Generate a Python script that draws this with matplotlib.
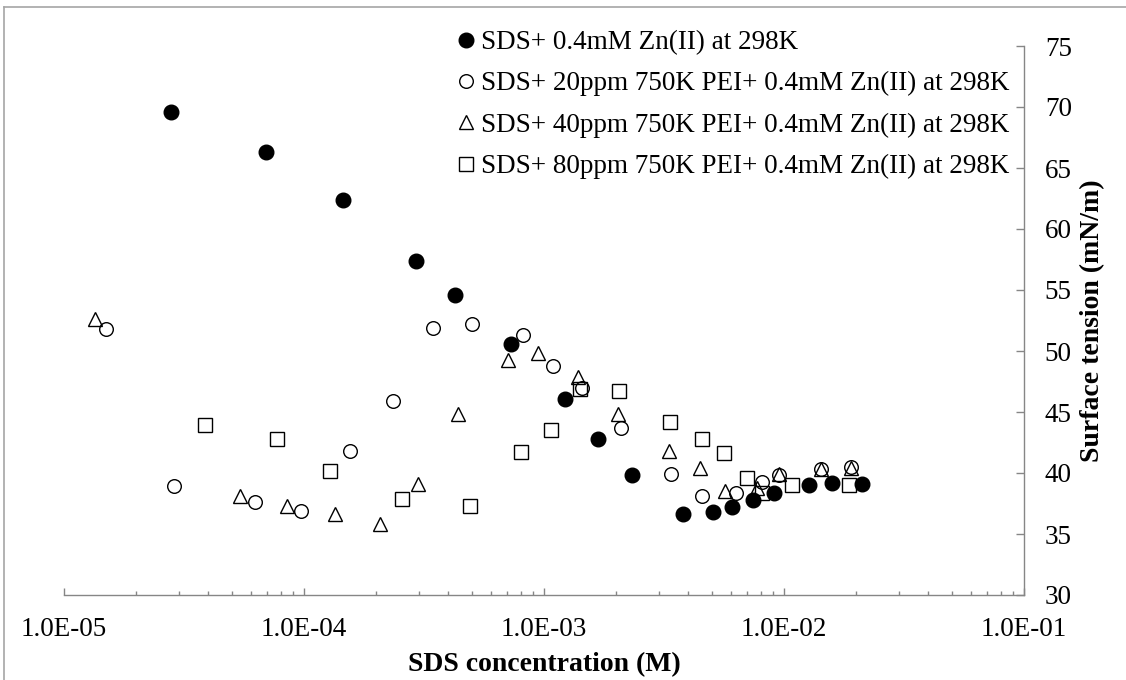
import matplotlib
matplotlib.use('Agg')
import matplotlib.pyplot as plt
import matplotlib.ticker as mticker
from matplotlib.lines import Line2D

plt.rcParams['font.family'] = ['Liberation Serif', 'DejaVu Serif']

# SDS + 0.4mM Zn(II)
SDS_ZN_X = [2.79e-5, 6.97e-5, 1.46e-4, 2.92e-4, 4.27e-4, 7.29e-4, 1.22e-3, 1.68e-3,
            2.32e-3, 3.80e-3, 5.06e-3, 6.05e-3, 7.45e-3, 9.06e-3, 1.27e-2, 1.59e-2, 2.12e-2]
SDS_ZN_Y = [69.6, 66.3, 62.4, 57.4, 54.6, 50.6, 46.1, 42.8,
            39.8, 36.6, 36.8, 37.2, 37.8, 38.4, 39.0, 39.2, 39.1]

# SDS + 20ppm PEI + Zn
PEI20_X = [1.50e-5, 2.87e-5, 6.23e-5, 9.72e-5, 1.56e-4, 2.34e-4, 3.44e-4, 5.01e-4, 8.15e-4,
           1.09e-3, 1.44e-3, 2.09e-3, 3.39e-3, 4.54e-3, 6.29e-3, 8.07e-3, 9.5e-3, 1.42e-2, 1.90e-2]
PEI20_Y = [51.8, 38.9, 37.6, 36.9, 41.8, 45.9, 51.9, 52.2, 51.3,
           48.8, 47.0, 43.7, 39.9, 38.1, 38.4, 39.3, 39.8, 40.3, 40.5]

# SDS + 40ppm PEI + Zn
PEI40_X = [1.35e-5, 5.41e-5, 8.47e-5, 1.35e-4, 2.07e-4, 2.99e-4, 4.37e-4, 7.08e-4, 9.44e-4,
           1.39e-3, 2.03e-3, 3.31e-3, 4.47e-3, 5.69e-3, 7.7e-3, 9.5e-3, 1.42e-2, 1.90e-2]
PEI40_Y = [52.6, 38.1, 37.3, 36.6, 35.8, 39.1, 44.8, 49.3, 49.8,
           47.9, 44.8, 41.8, 40.4, 38.5, 38.8, 39.9, 40.3, 40.4]

# SDS + 80ppm PEI + Zn
PEI80_X = [3.86e-5, 7.72e-5, 1.28e-4, 2.57e-4, 4.93e-4, 8.02e-4, 1.07e-3, 1.41e-3,
           2.06e-3, 3.35e-3, 4.54e-3, 5.61e-3, 7.01e-3, 8.12e-3, 1.08e-2, 1.87e-2]
PEI80_Y = [43.9, 42.8, 40.2, 37.9, 37.3, 41.7, 43.5, 46.9,
           46.7, 44.2, 42.8, 41.6, 39.6, 38.4, 39.0, 39.0]

LABELS = ['SDS+ 0.4mM Zn(II) at 298K',
          'SDS+ 20ppm 750K PEI+ 0.4mM Zn(II) at 298K',
          'SDS+ 40ppm 750K PEI+ 0.4mM Zn(II) at 298K',
          'SDS+ 80ppm 750K PEI+ 0.4mM Zn(II) at 298K']

X_TICKS = [1e-5, 1e-4, 1e-3, 1e-2, 1e-1]
Y_TICKS = [30, 35, 40, 45, 50, 55, 60, 65, 70, 75]

GRAY = '#868686'

fig = plt.figure(figsize=(11.26, 6.8), dpi=100)
ax = fig.add_axes([64/1126, 1 - 595/680, 960/1126, 549/680])

ax.plot(SDS_ZN_X, SDS_ZN_Y, ls='none', marker='o', ms=10.5, mfc='black', mec='black',
        label=LABELS[0])
ax.plot(PEI20_X, PEI20_Y, ls='none', marker='o', ms=9.8, mfc='white', mec='black',
        mew=1.0, label=LABELS[1])
ax.plot(PEI40_X, PEI40_Y, ls='none', marker='^', ms=9.8, mfc='none', mec='black',
        mew=1.0, label=LABELS[2])
ax.plot(PEI80_X, PEI80_Y, ls='none', marker='s', ms=9.8, mfc='none', mec='black',
        mew=1.0, label=LABELS[3])

ax.set_xscale('log')
ax.set_xlim(1e-5, 1e-1)
ax.set_ylim(30, 75)
ax.set_xticks(X_TICKS)
ax.xaxis.set_major_formatter(mticker.FuncFormatter(lambda v, p: f'{v:.1E}'))
ax.xaxis.set_minor_locator(mticker.LogLocator(base=10, subs=range(2, 10)))
ax.xaxis.set_minor_formatter(mticker.NullFormatter())

ax.yaxis.tick_right()
ax.yaxis.set_label_position('right')
ax.set_yticks(Y_TICKS)

for s in ['top', 'left']:
    ax.spines[s].set_visible(False)
for s in ['bottom', 'right']:
    ax.spines[s].set_color(GRAY)
    ax.spines[s].set_linewidth(1.0)

ax.tick_params(axis='x', which='major', direction='in', length=4.8, width=1, color=GRAY,
               labelsize=19.5, pad=16)
ax.tick_params(axis='x', which='minor', direction='in', length=3.1, width=1, color=GRAY)
ax.tick_params(axis='y', which='major', direction='in', length=5.8, width=1, color=GRAY,
               labelsize=19.5, pad=15, right=True, left=False)

ax.set_xlabel('SDS concentration (M)', fontsize=20, fontweight='bold', labelpad=7)
ax.set_ylabel('Surface tension (mN/m)', fontsize=20, fontweight='bold', labelpad=6)

leg = ax.legend(loc='upper left', bbox_to_anchor=(459/1126, 1 - 30/680),
                bbox_transform=fig.transFigure, frameon=False, fontsize=19.5,
                borderpad=0, handlelength=0.5, handletextpad=0.3, labelspacing=0.6,
                markerscale=1.0, borderaxespad=0)

# outer chart border (left and top edges visible)
fig.add_artist(Line2D([4/1126, 4/1126], [0, 1 - 7/680], transform=fig.transFigure,
                      color='#a6a6a6', lw=1.2))
fig.add_artist(Line2D([4/1126, 1], [1 - 7/680, 1 - 7/680], transform=fig.transFigure,
                      color='#a6a6a6', lw=1.2))

fig.savefig('out.png', dpi=100)
plt.close(fig)
